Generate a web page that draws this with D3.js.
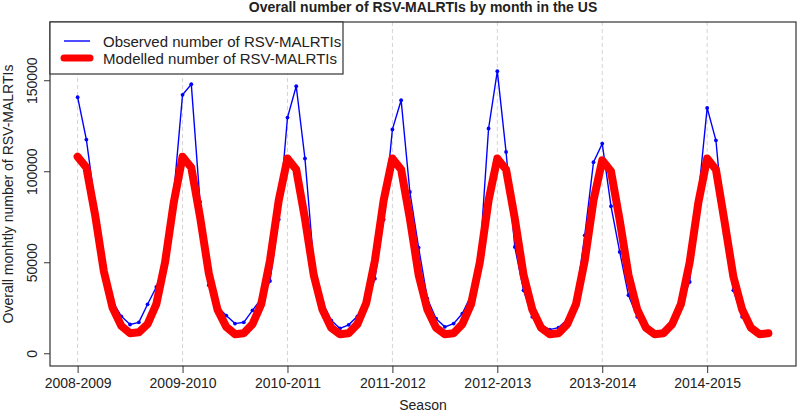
<!DOCTYPE html>
<html>
<head>
<meta charset="utf-8">
<script src="https://cdn.jsdelivr.net/npm/d3@7"></script>
<style>
  body { margin: 0; background: #fff; }
  text { font-family: "Liberation Sans", Arial, sans-serif; fill: #222; }
</style>
</head>
<body>
<svg id="chart" width="797" height="414"></svg>
<script>
// season labels, one per January (every 12 months)
const seasons = ['2008-2009', '2009-2010', '2010-2011', '2011-2012', '2012-2013', '2013-2014', '2014-2015'];
const yTicks = [0, 50000, 100000, 150000];

// observed monthly numbers (thousands), starting at the first 2008-2009 tick
const observed = [
    140.7, 117.4, 82, 47, 28.5, 20.3, 15.8, 17, 26.9, 36.4, 50, 87.7,
    142, 147.8, 83.2, 37.4, 25.5, 20.7, 16.3, 17, 23.6, 30, 39.7, 73.5,
    129.5, 146.7, 107, 49.3, 28, 18.1, 13.6, 15.6, 20.3, 26.4, 41, 73.5,
    123, 139, 88.6, 58, 30, 19, 14.5, 16.3, 21.8, 31.9, 52.9, 123.5,
    155, 110.6, 58.4, 34.6, 20, 15.4, 13, 14.1, 18.5, 30, 64.8, 105,
    115.2, 80.8, 55.7, 31.9, 20, 13, 11.5, 12.5, 17.2, 27.5, 39.2, 86.8,
    134.8, 117, 65.8, 34.6, 20, 13, 11, 10.5
];

// modelled monthly numbers (thousands)
const modelled = [
    108, 102, 76, 45, 25, 15, 11, 11.5, 16, 27, 50, 83,
    108, 102, 75, 44, 24, 14.5, 10.5, 11, 16, 27, 51, 84,
    107, 101, 74, 43, 24, 14, 10.5, 11, 16, 27.5, 51, 84,
    107, 101, 74, 43, 24, 14, 10.5, 11, 16, 27, 50, 84,
    107, 101, 74, 43, 24, 14, 10.5, 11, 16, 27, 51, 84,
    106, 100, 73, 43, 24, 14, 10.5, 11, 16, 27, 50, 83,
    107, 101, 72, 42, 24, 14, 10.5, 11
];

const svg = d3.select('#chart');
const box = { left: 50, right: 796, top: 22, bottom: 366 };

// R-style 4% padding on both axes
const n = observed.length;
const xPad = (n - 1) * 0.04;
const x = d3.scaleLinear().domain([-xPad, n - 1 + xPad]).range([box.left, box.right]);
const yMax = 175000;
const y = d3.scaleLinear().domain([-yMax * 0.04, yMax * 1.04]).range([box.bottom, box.top]);

// dashed season guides
svg.append('g')
    .selectAll('line')
    .data(seasons)
    .join('line')
    .attr('x1', (d, i) => x(i * 12))
    .attr('x2', (d, i) => x(i * 12))
    .attr('y1', box.top)
    .attr('y2', box.bottom)
    .attr('stroke', '#d3d3d3')
    .attr('stroke-dasharray', '4,3');

const monthLine = d3.line().x((d, i) => x(i)).y((d) => y(d * 1000));

// observed first, the thick modelled line sits on top of it
svg.append('path')
    .datum(observed)
    .attr('d', monthLine)
    .attr('fill', 'none')
    .attr('stroke', '#0000ff')
    .attr('stroke-width', 1.4);

svg.append('g')
    .selectAll('circle')
    .data(observed)
    .join('circle')
    .attr('cx', (d, i) => x(i))
    .attr('cy', (d) => y(d * 1000))
    .attr('r', 1.9)
    .attr('fill', '#0000ff');

svg.append('path')
    .datum(modelled)
    .attr('d', monthLine)
    .attr('fill', 'none')
    .attr('stroke', '#ff0000')
    .attr('stroke-width', 8)
    .attr('stroke-linejoin', 'round')
    .attr('stroke-linecap', 'round');

// plot box
svg.append('rect')
    .attr('x', box.left)
    .attr('y', box.top)
    .attr('width', box.right - box.left)
    .attr('height', box.bottom - box.top)
    .attr('fill', 'none')
    .attr('stroke', '#333')
    .attr('stroke-width', 1.2);

// x axis
const xAxis = d3.axisBottom(x)
    .tickValues(seasons.map((d, i) => i * 12))
    .tickFormat((d) => seasons[d / 12])
    .tickSize(7)
    .tickPadding(5)
    .tickSizeOuter(0);
const gx = svg.append('g').attr('transform', `translate(0,${box.bottom})`).call(xAxis);
gx.select('.domain').remove();
gx.selectAll('line').attr('stroke', '#333');
gx.selectAll('text').attr('font-size', 14).attr('font-family', 'Liberation Sans, Arial, sans-serif').attr('fill', '#222');

// y axis with rotated labels
const yAxis = d3.axisLeft(y).tickValues(yTicks).tickFormat(d3.format('d')).tickSize(6).tickSizeOuter(0);
const gy = svg.append('g').attr('transform', `translate(${box.left},0)`).call(yAxis);
gy.select('.domain').remove();
gy.selectAll('line').attr('stroke', '#333');
gy.selectAll('text')
    .attr('font-size', 14)
    .attr('font-family', 'Liberation Sans, Arial, sans-serif')
    .attr('fill', '#222')
    .attr('x', null)
    .attr('dy', null)
    .attr('text-anchor', 'middle')
    .attr('transform', 'translate(-13,0) rotate(-90)');

// titles
svg.append('text')
    .attr('x', (box.left + box.right) / 2)
    .attr('y', 12)
    .attr('text-anchor', 'middle')
    .attr('font-size', 14)
    .attr('font-weight', 'bold')
    .text('Overall number of RSV-MALRTIs by month in the US');

svg.append('text')
    .attr('x', (box.left + box.right) / 2)
    .attr('y', 410)
    .attr('text-anchor', 'middle')
    .attr('font-size', 14)
    .text('Season');

svg.append('text')
    .attr('transform', `translate(13,${(box.top + box.bottom) / 2}) rotate(-90)`)
    .attr('text-anchor', 'middle')
    .attr('font-size', 14)
    .text('Overall monhtly number of RSV-MALRTIs');

// legend
const legend = svg.append('g');
legend.append('rect')
    .attr('x', box.left)
    .attr('y', box.top)
    .attr('width', 293)
    .attr('height', 52)
    .attr('fill', '#fff')
    .attr('stroke', '#333')
    .attr('stroke-width', 1.2);

const legendItems = [
    { label: 'Observed number of RSV-MALRTIs', color: '#0000ff', width: 1.4, y: 41 },
    { label: 'Modelled number of RSV-MALRTIs', color: '#ff0000', width: 7, y: 58 }
];
legendItems.forEach((d) => {
    legend.append('line')
        .attr('x1', 64).attr('x2', 90)
        .attr('y1', d.y).attr('y2', d.y)
        .attr('stroke', d.color)
        .attr('stroke-width', d.width)
        .attr('stroke-linecap', d.width > 2 ? 'round' : 'butt');
    legend.append('text')
        .attr('x', 103)
        .attr('y', d.y + 5.5)
        .attr('font-size', 15)
        .text(d.label);
});
</script>
</body>
</html>
